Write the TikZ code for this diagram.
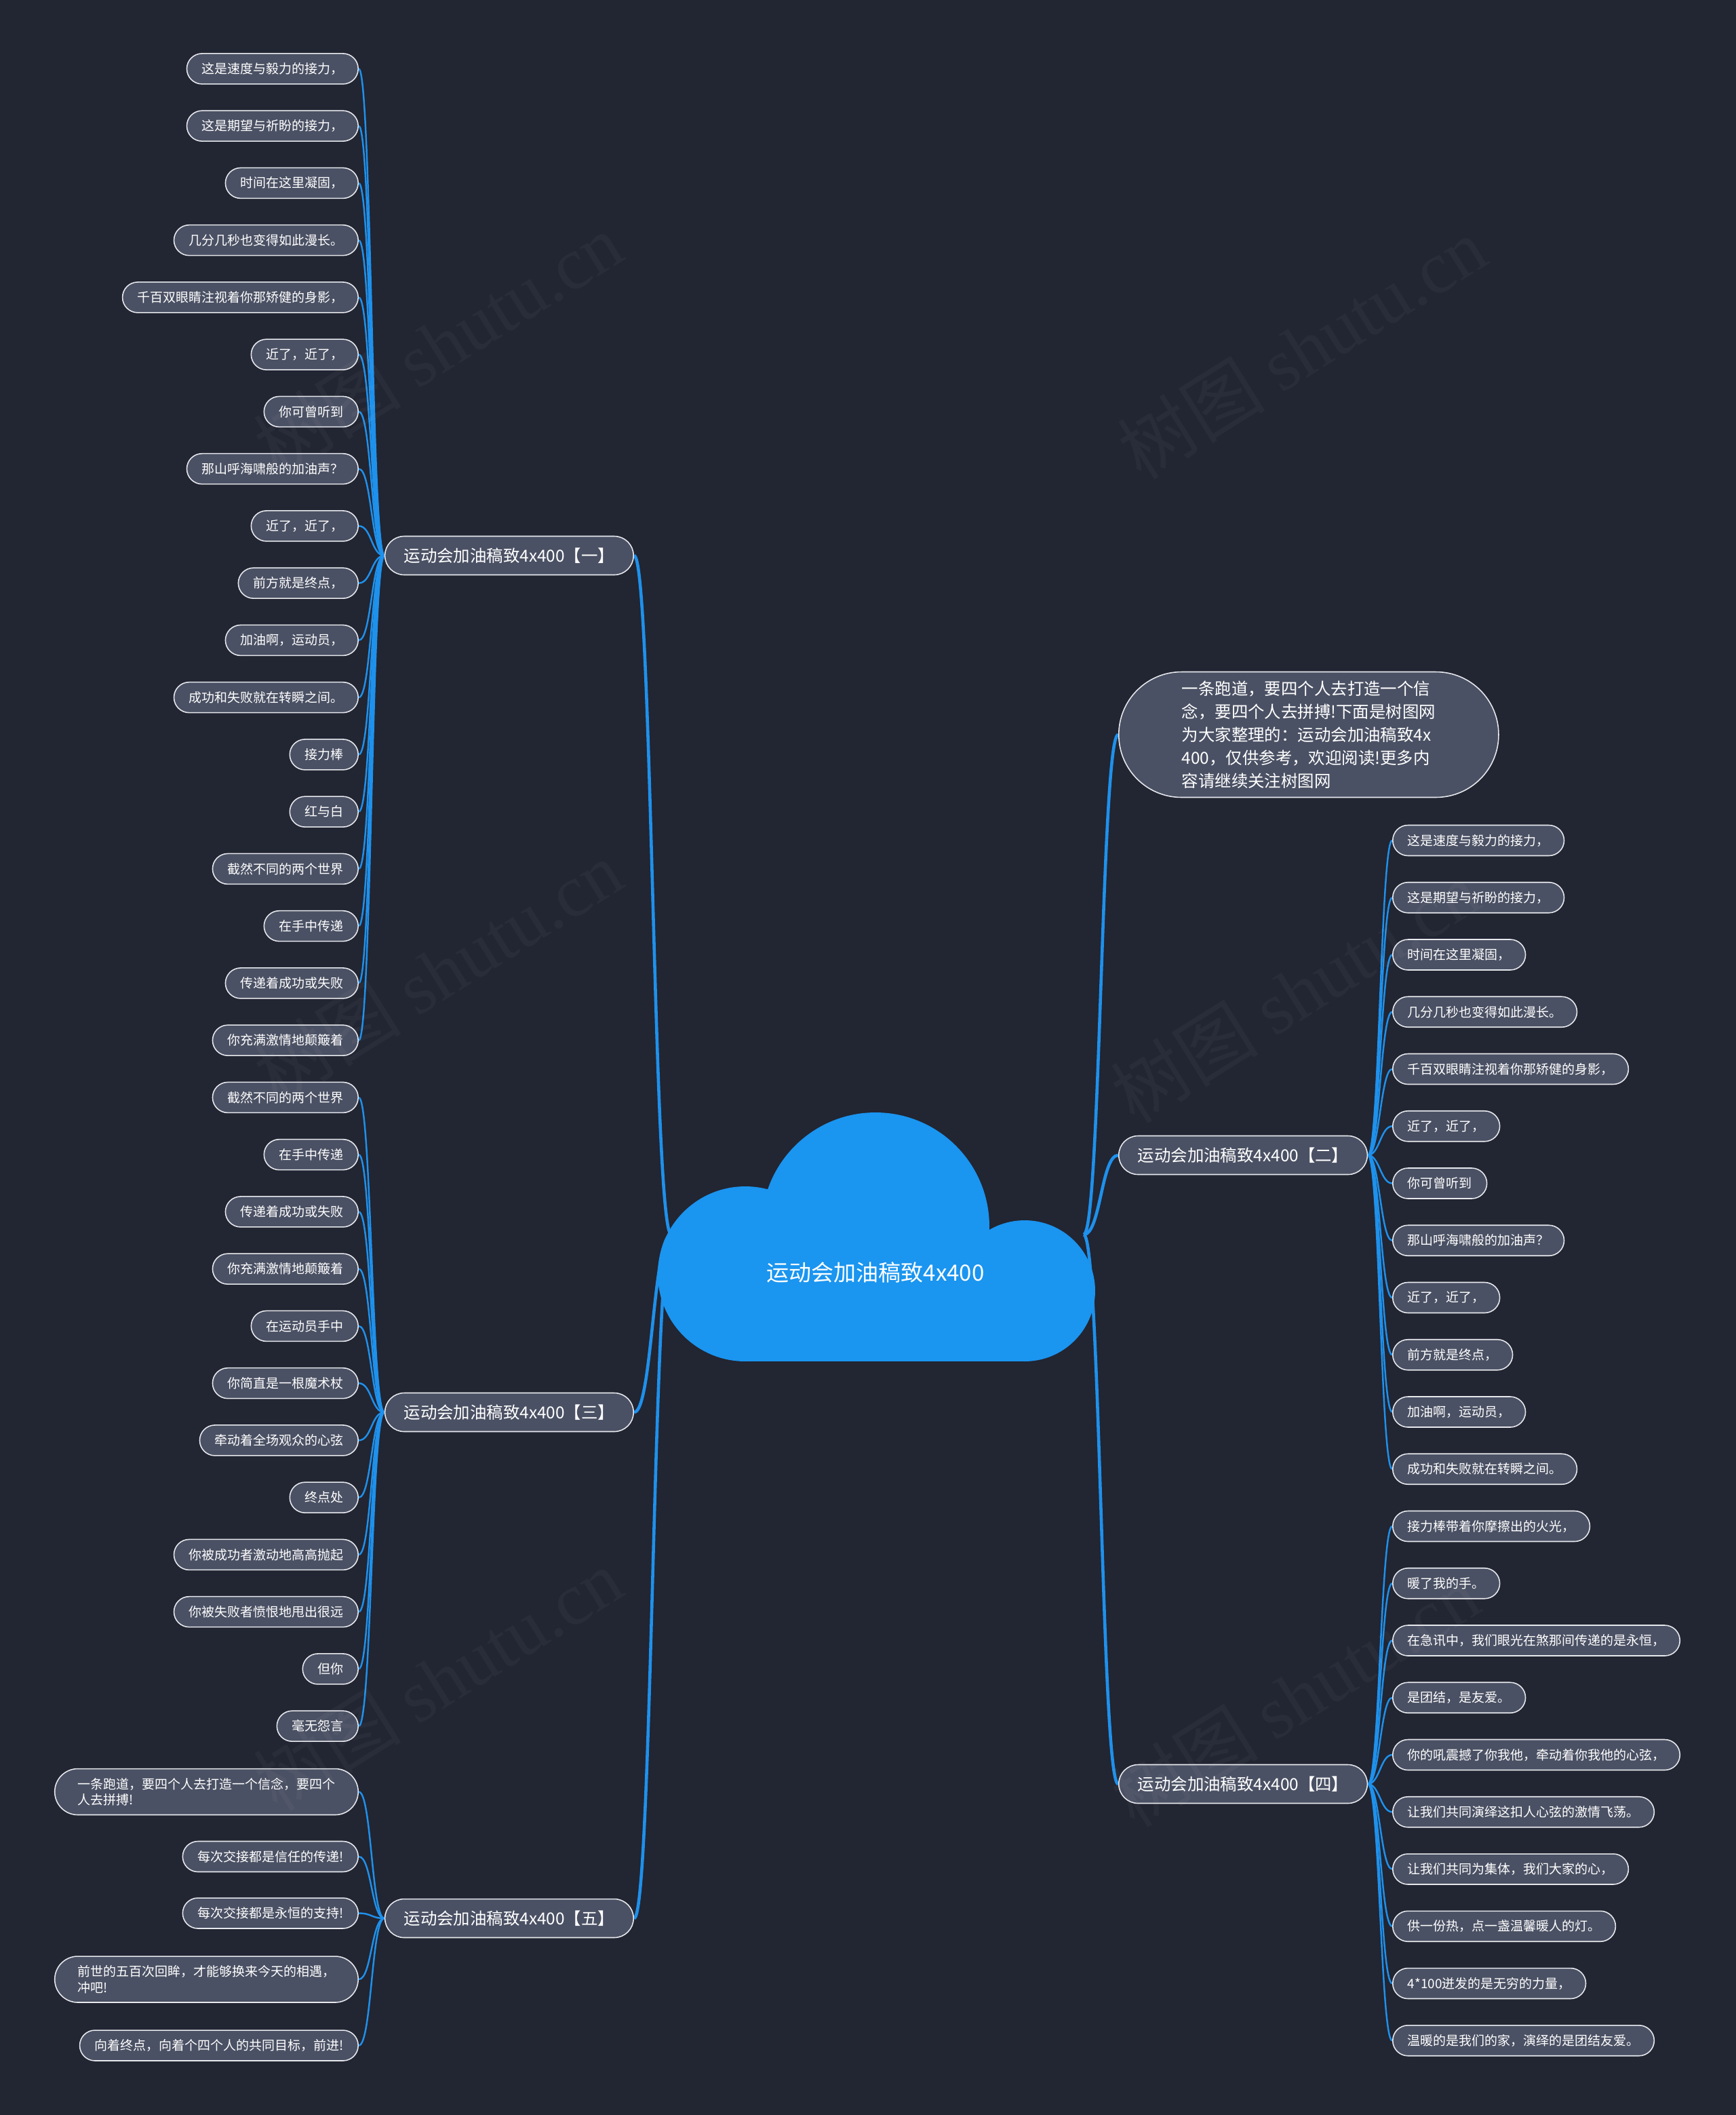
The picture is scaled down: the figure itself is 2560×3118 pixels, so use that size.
\documentclass[tikz,border=0pt]{standalone}
\usepackage{fontspec}
\setmainfont{Noto Sans CJK SC}
\newfontfamily\wmfont{Liberation Serif}
\usetikzlibrary{backgrounds}
\definecolor{bgnavy}{HTML}{222532}
\definecolor{pill}{HTML}{4B5164}
\definecolor{pillline}{HTML}{E6E8EC}
\definecolor{wire}{HTML}{1E91EC}
\definecolor{cloudblue}{HTML}{1A95F0}
\tikzset{
  leaf/.style={draw=pillline, line width=0.9pt, fill=pill, text=white,
    rounded corners=0.45cm, minimum height=0.9cm, inner xsep=0.44cm, inner ysep=0pt,
    font=\fontsize{10.8}{13}\selectfont},
  leafwide/.style={leaf, rounded corners=0.68cm, minimum height=1.36cm,
    inner xsep=0.68cm, align=left, font=\fontsize{10.8}{13.4}\selectfont},
  branch/.style={leaf, rounded corners=0.57cm, minimum height=1.14cm,
    inner xsep=0.56cm, font=\fontsize{13.9}{17}\selectfont},
  blurb/.style={branch, rounded corners=1.85cm, minimum height=3.7cm,
    inner xsep=1.86cm, align=left, font=\fontsize{13.9}{19.3}\selectfont},
  roottext/.style={text=white, font=\fontsize{18.8}{22}\selectfont},
  twig/.style={wire, line width=1.4pt},
  trunk/.style={wire, line width=2.6pt},
  stamp/.style={rotate=32, text=white, text opacity=0.035, font=\fontsize{62}{70}\selectfont},
}
\newcommand\Stamp[2]{\node[stamp] at (#1,#2) {树图 {\wmfont shutu.cn}};}

\begin{document}
\begin{tikzpicture}[x=0.02cm, y=-0.02cm]
    % cloud
    \fill[cloudblue] (1099,1878) circle[radius=2.58cm];
    \fill[cloudblue] (1291,1808) circle[radius=3.36cm];
    \fill[cloudblue] (1511,1903) circle[radius=2.08cm];
    \fill[cloudblue] (1099,1850) rectangle (1511,2007);
    \node[roottext] (root) at (1291,1876) {运动会加油稿致4x400};
    \coordinate (rootL) at (990,1820);
    \coordinate (rootR) at (1598,1820);

    \begin{scope} % 一
        \node[branch, anchor=east] (b1) at (935,819) {运动会加油稿致4x400【一】};
        \foreach \t [count=\i] in {这是速度与毅力的接力，,
            这是期望与祈盼的接力，,
            时间在这里凝固，,
            几分几秒也变得如此漫长。,
            千百双眼睛注视着你那矫健的身影，,
            近了，近了，,
            你可曾听到,
            那山呼海啸般的加油声？,
            近了，近了，,
            前方就是终点，,
            加油啊，运动员，,
            成功和失败就在转瞬之间。,
            接力棒,
            红与白,
            截然不同的两个世界,
            在手中传递,
            传递着成功或失败,
            你充满激情地颠簸着}
            \node[leaf, anchor=east] (yi\i) at (529,{101.4+84.25*(\i-1)}) {\t};
    \end{scope}

    \begin{scope} % 三
        \node[branch, anchor=east] (b3) at (935,2082) {运动会加油稿致4x400【三】};
        \foreach \t [count=\i] in {截然不同的两个世界,
            在手中传递,
            传递着成功或失败,
            你充满激情地颠簸着,
            在运动员手中,
            你简直是一根魔术杖,
            牵动着全场观众的心弦,
            终点处,
            你被成功者激动地高高抛起,
            你被失败者愤恨地甩出很远,
            但你,
            毫无怨言}
            \node[leaf, anchor=east] (san\i) at (529,{101.4+84.25*(\i+17)}) {\t};
    \end{scope}

    \begin{scope} % 五
        \node[branch, anchor=east] (b5) at (935,2828) {运动会加油稿致4x400【五】};
        \node[leafwide, anchor=east] (wu1) at (529,2641.5) {一条跑道，要四个人去打造一个信念，要四个\\人去拼搏!};
        \node[leaf, anchor=east] (wu2) at (529,2737) {每次交接都是信任的传递!};
        \node[leaf, anchor=east] (wu3) at (529,2820.5) {每次交接都是永恒的支持!};
        \node[leafwide, anchor=east] (wu4) at (529,2918) {前世的五百次回眸，才能够换来今天的相遇，\\冲吧!};
        \node[leaf, anchor=east] (wu5) at (529,3015.5) {向着终点，向着个四个人的共同目标，前进!};
    \end{scope}

    \node[blurb, anchor=west] (intro) at (1649,1083) {一条跑道，要四个人去打造一个信\\
        念，要四个人去拼搏!下面是树图网\\
        为大家整理的：运动会加油稿致4x\\
        400，仅供参考，欢迎阅读!更多内\\
        容请继续关注树图网};

    \begin{scope} % 二
        \node[branch, anchor=west] (b2) at (1649,1703) {运动会加油稿致4x400【二】};
        \foreach \t [count=\i] in {这是速度与毅力的接力，,
            这是期望与祈盼的接力，,
            时间在这里凝固，,
            几分几秒也变得如此漫长。,
            千百双眼睛注视着你那矫健的身影，,
            近了，近了，,
            你可曾听到,
            那山呼海啸般的加油声？,
            近了，近了，,
            前方就是终点，,
            加油啊，运动员，,
            成功和失败就在转瞬之间。}
            \node[leaf, anchor=west] (er\i) at (2053,{1239+84.25*(\i-1)}) {\t};
    \end{scope}

    \begin{scope} % 四
        \node[branch, anchor=west] (b4) at (1649,2630) {运动会加油稿致4x400【四】};
        \foreach \t [count=\i] in {接力棒带着你摩擦出的火光，,
            暖了我的手。,
            在急讯中，我们眼光在煞那间传递的是永恒，,
            是团结，是友爱。,
            你的吼震撼了你我他，牵动着你我他的心弦，,
            让我们共同演绎这扣人心弦的激情飞荡。,
            让我们共同为集体，我们大家的心，,
            供一份热，点一盏温馨暖人的灯。,
            4*100迸发的是无穷的力量，,
            温暖的是我们的家，演绎的是团结友爱。}
            \node[leaf, anchor=west] (si\i) at (2053,{1239+84.25*(\i+11)}) {\t};
    \end{scope}

    \begin{scope}[on background layer]
        \fill[bgnavy] (0,0) rectangle (2560,3118);
        \foreach \b in {b1,b3,b5}
            \draw[trunk] (rootL) .. controls +(-27,0) and +(27,0) .. (\b.east);
        \foreach \b in {intro,b2,b4}
            \draw[trunk] (rootR) .. controls +(25,0) and +(-25,0) .. (\b.west);
        \foreach \i in {1,...,18}
            \draw[twig] (b1.west) .. controls +(-19,0) and +(19,0) .. (yi\i.east);
        \foreach \i in {1,...,12}
            \draw[twig] (b3.west) .. controls +(-19,0) and +(19,0) .. (san\i.east);
        \foreach \i in {1,...,5}
            \draw[twig] (b5.west) .. controls +(-19,0) and +(19,0) .. (wu\i.east);
        \foreach \i in {1,...,12}
            \draw[twig] (b2.east) .. controls +(17,0) and +(-17,0) .. (er\i.west);
        \foreach \i in {1,...,10}
            \draw[twig] (b4.east) .. controls +(17,0) and +(-17,0) .. (si\i.west);
    \end{scope}

    % watermark
    \Stamp{646}{507}
    \Stamp{1920}{513}
    \Stamp{646}{1432}
    \Stamp{1910}{1462}
    \Stamp{646}{2476}
    \Stamp{1910}{2500}
\end{tikzpicture}
\end{document}
